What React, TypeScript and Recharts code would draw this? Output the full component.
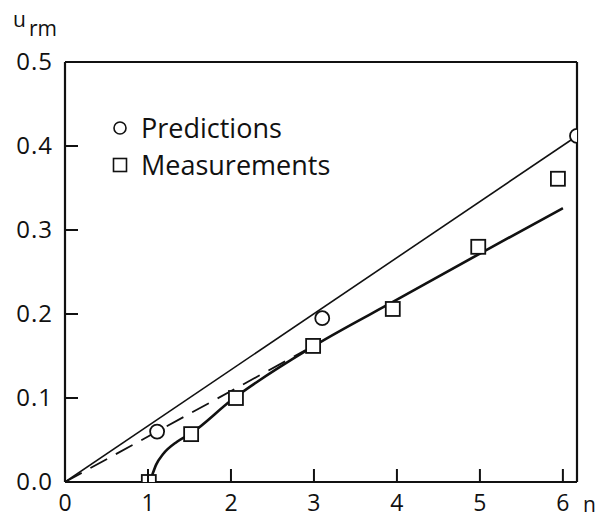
import {
  ComposedChart,
  Line,
  Scatter,
  XAxis,
  YAxis,
  ReferenceLine,
  Legend,
} from "recharts";

const xTicks = [0, 1, 2, 3, 4, 5, 6];
const yTicks = [0, 0.1, 0.2, 0.3, 0.4, 0.5];

// Plotted markers
const predictions = [
  { x: 1.11, y: 0.06 },
  { x: 3.1, y: 0.195 },
  { x: 6.17, y: 0.412 },
];
const measurements = [
  { x: 1.01, y: 0.0 },
  { x: 1.52, y: 0.057 },
  { x: 2.06, y: 0.1 },
  { x: 2.99, y: 0.162 },
  { x: 3.95, y: 0.206 },
  { x: 4.98, y: 0.28 },
  { x: 5.94, y: 0.361 },
];

// Curves
const predictionLine = [
  { x: 0, y: 0 },
  { x: 6.17, y: 0.412 },
];
const dashedLine = [
  { x: 0, y: 0 },
  { x: 2.9, y: 0.157 },
];
const measuredCurve = [
  { x: 1.05, y: 0.008 },
  { x: 1.1, y: 0.021 },
  { x: 1.18, y: 0.033 },
  { x: 1.35, y: 0.048 },
  { x: 1.52, y: 0.058 },
  { x: 2.0, y: 0.097 },
  { x: 3.0, y: 0.162 },
  { x: 4.0, y: 0.217 },
  { x: 5.0, y: 0.272 },
  { x: 6.0, y: 0.326 },
];

const legendItems = [
  { name: "Predictions", shape: "circle" },
  { name: "Measurements", shape: "square" },
];

const FONT = "'Open Sans', sans-serif";
const INK = "#111";
const TICK_LEN = 13;

const CircleMark = (props: any) => (
  <circle cx={props.cx} cy={props.cy} r={7} fill="#fff" stroke={INK} strokeWidth={1.8} />
);

const SquareMark = (props: any) => (
  <rect x={props.cx - 7} y={props.cy - 7} width={14} height={14} fill="#fff" stroke={INK} strokeWidth={1.8} />
);

// ticks point inward, labels sit outside
const YTick = (props: any) => {
  const { x, y, payload } = props;
  return (
    <g>
      <line x1={x} x2={x + TICK_LEN} y1={y} y2={y} stroke={INK} strokeWidth={2} />
      <text x={x - 12} y={y + 8} textAnchor="end" fontFamily={FONT} fontSize={24} fill={INK} letterSpacing={1}>
        {payload.value.toFixed(1)}
      </text>
    </g>
  );
};

const XTick = (props: any) => {
  const { x, y, payload } = props;
  return (
    <g>
      <line x1={x} x2={x} y1={y} y2={y - TICK_LEN} stroke={INK} strokeWidth={2} />
      <text x={x} y={y + 29} textAnchor="middle" fontFamily={FONT} fontSize={23} fill={INK}>
        {payload.value}
      </text>
    </g>
  );
};

const YLabel = (props: any) => {
  const { viewBox } = props;
  return (
    <text x={viewBox.x + 8} y={viewBox.y - 35} fontFamily={FONT} fill={INK}>
      <tspan fontSize={21}>u</tspan>
      <tspan fontSize={21} dx={3} dy={9}>rm</tspan>
    </text>
  );
};

const XLabel = (props: any) => {
  const { viewBox } = props;
  return (
    <text x={viewBox.x + viewBox.width + 6} y={viewBox.y + 30} fontFamily={FONT} fontSize={21} fill={INK}>
      n
    </text>
  );
};

const LegendBox = () => (
  <div style={{ fontFamily: FONT, fontSize: 27, color: INK, lineHeight: "37px" }}>
    {legendItems.map((item) => (
      <div key={item.name} style={{ display: "flex", alignItems: "center" }}>
        <svg width={22} height={16} style={{ marginRight: 7 }}>
          {item.shape === "circle" ? (
            <circle cx={8} cy={8} r={6} fill="#fff" stroke={INK} strokeWidth={1.6} />
          ) : (
            <rect x={1.5} y={1.5} width={13} height={13} fill="#fff" stroke={INK} strokeWidth={1.6} />
          )}
        </svg>
        <span>{item.name}</span>
      </div>
    ))}
  </div>
);

export default function App() {
  return (
    <div style={{ position: "absolute", left: 0, top: 0, background: "#fff" }}>
      <ComposedChart width={603} height={519} margin={{ top: 62, right: 26, bottom: 0, left: 5 }}>
        <XAxis
          type="number"
          dataKey="x"
          domain={[0, 6.17]}
          ticks={xTicks}
          tick={<XTick />}
          tickLine={false}
          tickSize={0}
          tickMargin={0}
          height={37}
          axisLine={{ stroke: INK, strokeWidth: 2.2 }}
          allowDataOverflow
          label={<XLabel />}
        />
        <YAxis
          type="number"
          dataKey="y"
          domain={[0, 0.5]}
          ticks={yTicks}
          tick={<YTick />}
          tickLine={false}
          tickSize={0}
          tickMargin={0}
          width={60}
          axisLine={{ stroke: INK, strokeWidth: 2.2 }}
          allowDataOverflow
          label={<YLabel />}
        />
        <ReferenceLine y={0.5} stroke={INK} strokeWidth={2.2} />
        <ReferenceLine x={6.17} stroke={INK} strokeWidth={2.2} />
        <Legend
          layout="vertical"
          align="center"
          verticalAlign="middle"
          content={<LegendBox />}
          wrapperStyle={{ left: 112, top: 109, width: "auto" }}
        />
        <Line
          data={predictionLine}
          dataKey="y"
          type="linear"
          stroke={INK}
          strokeWidth={1.6}
          dot={false}
          activeDot={false}
          isAnimationActive={false}
        />
        <Line
          data={dashedLine}
          dataKey="y"
          type="linear"
          stroke={INK}
          strokeWidth={1.8}
          strokeDasharray="19 10"
          dot={false}
          activeDot={false}
          isAnimationActive={false}
        />
        <Line
          data={measuredCurve}
          dataKey="y"
          type="monotone"
          stroke={INK}
          strokeWidth={2.6}
          dot={false}
          activeDot={false}
          isAnimationActive={false}
        />
        <Scatter data={predictions} dataKey="y" shape={<CircleMark />} isAnimationActive={false} />
        <Scatter data={measurements} dataKey="y" shape={<SquareMark />} isAnimationActive={false} />
      </ComposedChart>
    </div>
  );
}
